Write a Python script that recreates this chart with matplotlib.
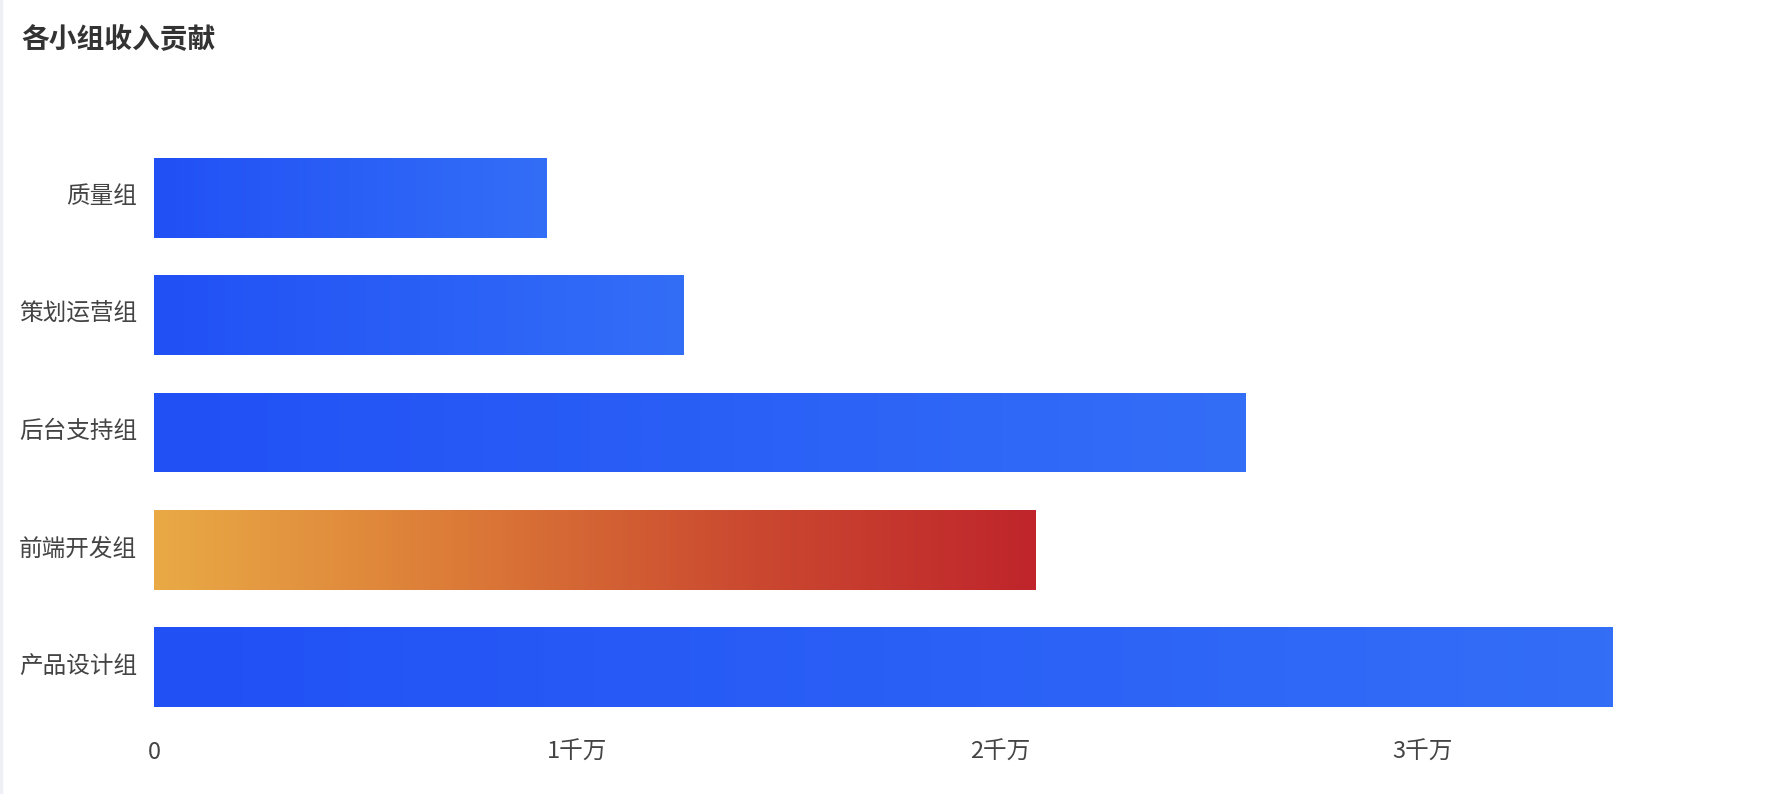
import numpy as np
import matplotlib
matplotlib.use("Agg")
import matplotlib.pyplot as plt
import matplotlib.transforms as mtransforms
from matplotlib.colors import LinearSegmentedColormap

plt.rcParams['font.family'] = ['Noto Sans CJK SC', 'DejaVu Sans']

# data (元), bottom to top
groups = ["产品设计组", "前端开发组", "后台支持组", "策划运营组", "质量组"]
income = [34480000, 20850000, 25810000, 12520000, 9290000]
highlight = "前端开发组"
xticks_val = [0, 10000000, 20000000, 30000000]
xtick_labels = ["0", "1千万", "2千万", "3千万"]

blue = LinearSegmentedColormap.from_list("blue", ["#2150F5", "#336EF7"])
warm = LinearSegmentedColormap.from_list("warm", ["#E9AA45", "#DC7C38", "#CB4A30", "#BF252B"])

fig = plt.figure(figsize=(17.78, 7.94), dpi=100)
ax = fig.add_axes([154 / 1778, 1 - 726 / 794, (1757 - 154) / 1778, 587 / 794])

y = np.arange(len(groups))
bars = ax.barh(y, income, height=0.68, color="none", edgecolor="none")

grad = np.linspace(0, 1, 256).reshape(1, -1)
for g, b in zip(groups, bars):
    x0, y0 = b.get_x(), b.get_y()
    w, h = b.get_width(), b.get_height()
    cm = warm if g == highlight else blue
    im = ax.imshow(grad, cmap=cm, aspect="auto", extent=[x0, x0 + w, y0, y0 + h],
                   interpolation="bilinear", zorder=2)
    im.set_clip_path(b)

ax.set_xlim(0, 37900000)
ax.set_ylim(-0.5, len(groups) - 0.5)
ax.set_xticks(xticks_val)
ax.set_xticklabels(xtick_labels)
ax.set_yticks(y)
ax.set_yticklabels(groups)
for s in ax.spines.values():
    s.set_visible(False)
ax.tick_params(axis="both", length=0, labelsize=17, colors="#444444")
ax.tick_params(axis="x", pad=11)
ax.tick_params(axis="y", pad=12)

# nudge the category labels up a little
shift = mtransforms.ScaledTranslation(0, 3.5 / 100, fig.dpi_scale_trans)
for lab in ax.get_yticklabels():
    lab.set_transform(lab.get_transform() + shift)

fig.text(21 / 1778, 1 - 40 / 794, "各小组收入贡献", fontsize=20, fontweight="bold",
         color="#333333", va="center", ha="left")

# faint left edge strip
fig.patches.append(plt.Rectangle((0, 0), 2 / 1778, 1, transform=fig.transFigure,
                                 color="#EEEEF5", zorder=0))

fig.savefig("out.png", dpi=100)
